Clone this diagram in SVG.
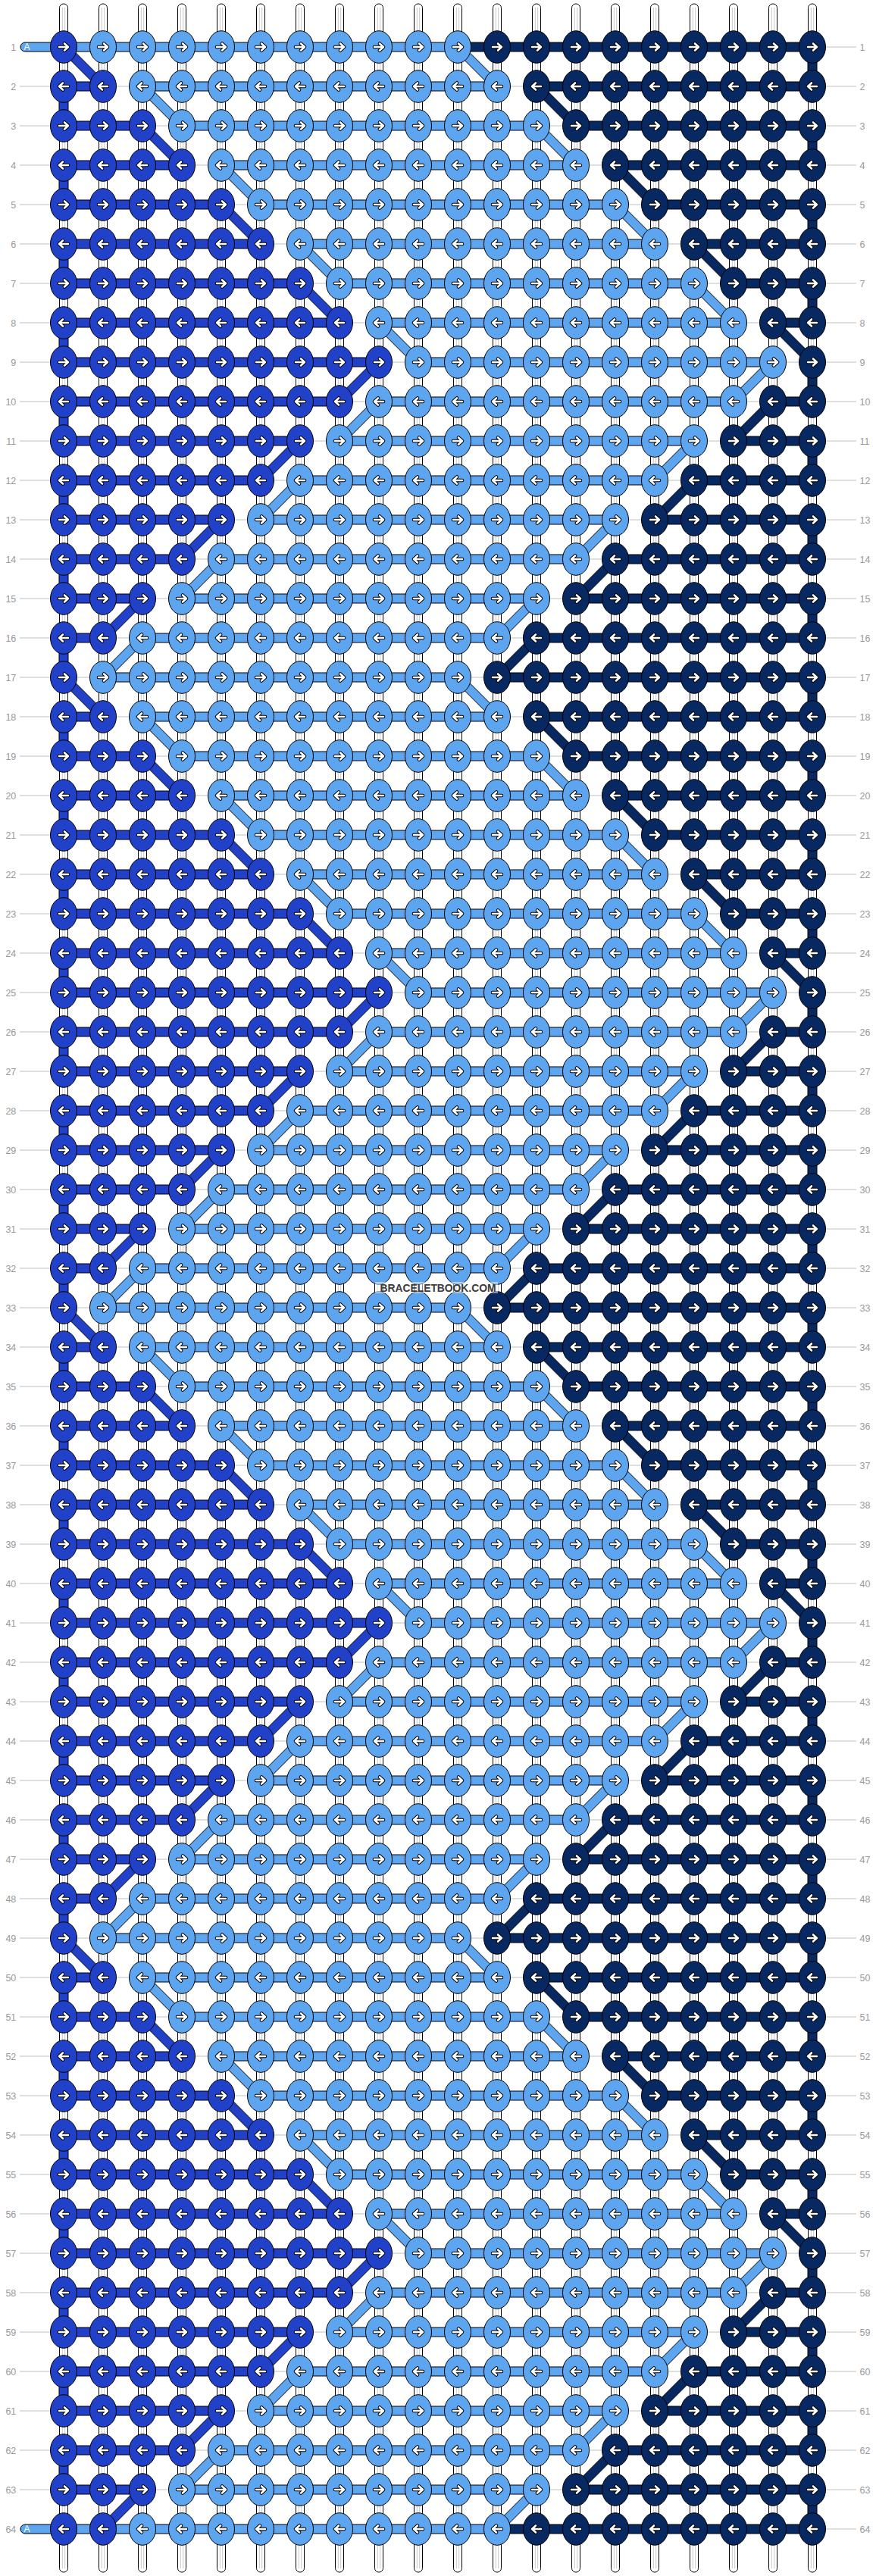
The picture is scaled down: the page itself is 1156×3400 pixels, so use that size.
<svg xmlns="http://www.w3.org/2000/svg" width="1156" height="3400" viewBox="0 0 1156 3400">
<style>
.num{font-family:"Liberation Sans",Arial,sans-serif;font-size:12.5px;fill:#999}
.lab{font-family:"Liberation Sans",Arial,sans-serif;font-size:12px;fill:#fff}
.wm{font-family:"Liberation Sans",Arial,sans-serif;font-size:15px;font-weight:bold;fill:#3c3c3c}
</style>
<defs>
<g id="a1"><path d="M-6,0H5.5M1,-4.5L6,0L1,4.5" fill="none" stroke="#000" stroke-width="4.6" stroke-linecap="round" stroke-linejoin="round"/><path d="M-6,0H5.5M1,-4.5L6,0L1,4.5" fill="none" stroke="#fff" stroke-width="2.6" stroke-linecap="round" stroke-linejoin="round"/></g>
<g id="a2"><use href="#a1" transform="scale(-1,1)"/></g>
<g id="R1"><ellipse rx="17.5" ry="21.3" fill="#2241c9" stroke="#000"/><use href="#a1"/></g>
<g id="R2"><ellipse rx="17.5" ry="21.3" fill="#2241c9" stroke="#000"/><use href="#a2"/></g>
<g id="L1"><ellipse rx="17.5" ry="21.3" fill="#5ea5ef" stroke="#000"/><use href="#a1"/></g>
<g id="L2"><ellipse rx="17.5" ry="21.3" fill="#5ea5ef" stroke="#000"/><use href="#a2"/></g>
<g id="N1"><ellipse rx="17.5" ry="21.3" fill="#072861" stroke="#000"/><use href="#a1"/></g>
<g id="N2"><ellipse rx="17.5" ry="21.3" fill="#072861" stroke="#000"/><use href="#a2"/></g>
<g id="s"><rect x="-5.5" y="5" width="11" height="3390" rx="5.5" fill="#fff" stroke="#000"/><path d="M-1.7,10V3390M1.7,10V3390" stroke="#c8c8c8" fill="none"/></g>
<rect id="hL" y="-6" width="468" height="12" fill="#5ea5ef"/>
<rect id="hR2" x="84" y="-6" width="52" height="12" fill="#2241c9"/>
<rect id="hR3" x="84" y="-6" width="104" height="12" fill="#2241c9"/>
<rect id="hR4" x="84" y="-6" width="156" height="12" fill="#2241c9"/>
<rect id="hR5" x="84" y="-6" width="208" height="12" fill="#2241c9"/>
<rect id="hR6" x="84" y="-6" width="260" height="12" fill="#2241c9"/>
<rect id="hR7" x="84" y="-6" width="312" height="12" fill="#2241c9"/>
<rect id="hR8" x="84" y="-6" width="364" height="12" fill="#2241c9"/>
<rect id="hR9" x="84" y="-6" width="416" height="12" fill="#2241c9"/>
<rect id="hN1" x="656" y="-6" width="416" height="12" fill="#072861"/>
<rect id="hN2" x="708" y="-6" width="364" height="12" fill="#072861"/>
<rect id="hN3" x="760" y="-6" width="312" height="12" fill="#072861"/>
<rect id="hN4" x="812" y="-6" width="260" height="12" fill="#072861"/>
<rect id="hN5" x="864" y="-6" width="208" height="12" fill="#072861"/>
<rect id="hN6" x="916" y="-6" width="156" height="12" fill="#072861"/>
<rect id="hN7" x="968" y="-6" width="104" height="12" fill="#072861"/>
<rect id="hN8" x="1020" y="-6" width="52" height="12" fill="#072861"/>
<rect id="vR" x="78" width="12" height="52" fill="#2241c9"/>
<rect id="vN" x="1066" width="12" height="52" fill="#072861"/>
<polygon id="drR" points="4.2,-4.2 56.2,47.8 47.8,56.2 -4.2,4.2" fill="#2241c9"/>
<polygon id="drL" points="4.2,-4.2 56.2,47.8 47.8,56.2 -4.2,4.2" fill="#5ea5ef"/>
<polygon id="drN" points="4.2,-4.2 56.2,47.8 47.8,56.2 -4.2,4.2" fill="#072861"/>
<polygon id="dlR" points="-4.2,-4.2 -56.2,47.8 -47.8,56.2 4.2,4.2" fill="#2241c9"/>
<polygon id="dlL" points="-4.2,-4.2 -56.2,47.8 -47.8,56.2 4.2,4.2" fill="#5ea5ef"/>
<polygon id="dlN" points="-4.2,-4.2 -56.2,47.8 -47.8,56.2 4.2,4.2" fill="#072861"/>
</defs>
<rect width="1156" height="3400" fill="#fff"/>
<path id="guides" fill="none" stroke="#c0c0c0" stroke-width="1" d="M26,62H1130M26,114H1130M26,166H1130M26,218H1130M26,270H1130M26,322H1130M26,374H1130M26,426H1130M26,478H1130M26,530H1130M26,582H1130M26,634H1130M26,686H1130M26,738H1130M26,790H1130M26,842H1130M26,894H1130M26,946H1130M26,998H1130M26,1050H1130M26,1102H1130M26,1154H1130M26,1206H1130M26,1258H1130M26,1310H1130M26,1362H1130M26,1414H1130M26,1466H1130M26,1518H1130M26,1570H1130M26,1622H1130M26,1674H1130M26,1726H1130M26,1778H1130M26,1830H1130M26,1882H1130M26,1934H1130M26,1986H1130M26,2038H1130M26,2090H1130M26,2142H1130M26,2194H1130M26,2246H1130M26,2298H1130M26,2350H1130M26,2402H1130M26,2454H1130M26,2506H1130M26,2558H1130M26,2610H1130M26,2662H1130M26,2714H1130M26,2766H1130M26,2818H1130M26,2870H1130M26,2922H1130M26,2974H1130M26,3026H1130M26,3078H1130M26,3130H1130M26,3182H1130M26,3234H1130M26,3286H1130M26,3338H1130"/>
<g id="strings"><use href="#s" x="84"/><use href="#s" x="136"/><use href="#s" x="188"/><use href="#s" x="240"/><use href="#s" x="292"/><use href="#s" x="344"/><use href="#s" x="396"/><use href="#s" x="448"/><use href="#s" x="500"/><use href="#s" x="552"/><use href="#s" x="604"/><use href="#s" x="656"/><use href="#s" x="708"/><use href="#s" x="760"/><use href="#s" x="812"/><use href="#s" x="864"/><use href="#s" x="916"/><use href="#s" x="968"/><use href="#s" x="1020"/><use href="#s" x="1072"/></g>
<g id="connectors" stroke="#000" stroke-width="1">
<rect x="27" y="56" width="577" height="12" rx="6" fill="#5ea5ef"/><rect x="604" y="56" width="468" height="12" fill="#072861"/><use href="#vN" y="62"/><use href="#drR" x="84" y="62"/><use href="#drL" x="604" y="62"/>
<use href="#hR2" y="114"/><use href="#hL" x="188" y="114"/><use href="#hN2" y="114"/><use href="#vR" y="114"/><use href="#drL" x="188" y="114"/><use href="#drN" x="708" y="114"/>
<use href="#hR3" y="166"/><use href="#hL" x="240" y="166"/><use href="#hN3" y="166"/><use href="#vN" y="166"/><use href="#drR" x="188" y="166"/><use href="#drL" x="708" y="166"/>
<use href="#hR4" y="218"/><use href="#hL" x="292" y="218"/><use href="#hN4" y="218"/><use href="#vR" y="218"/><use href="#drL" x="292" y="218"/><use href="#drN" x="812" y="218"/>
<use href="#hR5" y="270"/><use href="#hL" x="344" y="270"/><use href="#hN5" y="270"/><use href="#vN" y="270"/><use href="#drR" x="292" y="270"/><use href="#drL" x="812" y="270"/>
<use href="#hR6" y="322"/><use href="#hL" x="396" y="322"/><use href="#hN6" y="322"/><use href="#vR" y="322"/><use href="#drL" x="396" y="322"/><use href="#drN" x="916" y="322"/>
<use href="#hR7" y="374"/><use href="#hL" x="448" y="374"/><use href="#hN7" y="374"/><use href="#vN" y="374"/><use href="#drR" x="396" y="374"/><use href="#drL" x="916" y="374"/>
<use href="#hR8" y="426"/><use href="#hL" x="500" y="426"/><use href="#hN8" y="426"/><use href="#vR" y="426"/><use href="#drL" x="500" y="426"/><use href="#drN" x="1020" y="426"/>
<use href="#hR9" y="478"/><use href="#hL" x="552" y="478"/><use href="#vN" y="478"/><use href="#dlR" x="500" y="478"/><use href="#dlL" x="1020" y="478"/>
<use href="#hR8" y="530"/><use href="#hL" x="500" y="530"/><use href="#hN8" y="530"/><use href="#vR" y="530"/><use href="#dlL" x="500" y="530"/><use href="#dlN" x="1020" y="530"/>
<use href="#hR7" y="582"/><use href="#hL" x="448" y="582"/><use href="#hN7" y="582"/><use href="#vN" y="582"/><use href="#dlR" x="396" y="582"/><use href="#dlL" x="916" y="582"/>
<use href="#hR6" y="634"/><use href="#hL" x="396" y="634"/><use href="#hN6" y="634"/><use href="#vR" y="634"/><use href="#dlL" x="396" y="634"/><use href="#dlN" x="916" y="634"/>
<use href="#hR5" y="686"/><use href="#hL" x="344" y="686"/><use href="#hN5" y="686"/><use href="#vN" y="686"/><use href="#dlR" x="292" y="686"/><use href="#dlL" x="812" y="686"/>
<use href="#hR4" y="738"/><use href="#hL" x="292" y="738"/><use href="#hN4" y="738"/><use href="#vR" y="738"/><use href="#dlL" x="292" y="738"/><use href="#dlN" x="812" y="738"/>
<use href="#hR3" y="790"/><use href="#hL" x="240" y="790"/><use href="#hN3" y="790"/><use href="#vN" y="790"/><use href="#dlR" x="188" y="790"/><use href="#dlL" x="708" y="790"/>
<use href="#hR2" y="842"/><use href="#hL" x="188" y="842"/><use href="#hN2" y="842"/><use href="#vR" y="842"/><use href="#dlL" x="188" y="842"/><use href="#dlN" x="708" y="842"/>
<use href="#hL" x="136" y="894"/><use href="#hN1" y="894"/><use href="#vN" y="894"/><use href="#drR" x="84" y="894"/><use href="#drL" x="604" y="894"/>
<use href="#hR2" y="946"/><use href="#hL" x="188" y="946"/><use href="#hN2" y="946"/><use href="#vR" y="946"/><use href="#drL" x="188" y="946"/><use href="#drN" x="708" y="946"/>
<use href="#hR3" y="998"/><use href="#hL" x="240" y="998"/><use href="#hN3" y="998"/><use href="#vN" y="998"/><use href="#drR" x="188" y="998"/><use href="#drL" x="708" y="998"/>
<use href="#hR4" y="1050"/><use href="#hL" x="292" y="1050"/><use href="#hN4" y="1050"/><use href="#vR" y="1050"/><use href="#drL" x="292" y="1050"/><use href="#drN" x="812" y="1050"/>
<use href="#hR5" y="1102"/><use href="#hL" x="344" y="1102"/><use href="#hN5" y="1102"/><use href="#vN" y="1102"/><use href="#drR" x="292" y="1102"/><use href="#drL" x="812" y="1102"/>
<use href="#hR6" y="1154"/><use href="#hL" x="396" y="1154"/><use href="#hN6" y="1154"/><use href="#vR" y="1154"/><use href="#drL" x="396" y="1154"/><use href="#drN" x="916" y="1154"/>
<use href="#hR7" y="1206"/><use href="#hL" x="448" y="1206"/><use href="#hN7" y="1206"/><use href="#vN" y="1206"/><use href="#drR" x="396" y="1206"/><use href="#drL" x="916" y="1206"/>
<use href="#hR8" y="1258"/><use href="#hL" x="500" y="1258"/><use href="#hN8" y="1258"/><use href="#vR" y="1258"/><use href="#drL" x="500" y="1258"/><use href="#drN" x="1020" y="1258"/>
<use href="#hR9" y="1310"/><use href="#hL" x="552" y="1310"/><use href="#vN" y="1310"/><use href="#dlR" x="500" y="1310"/><use href="#dlL" x="1020" y="1310"/>
<use href="#hR8" y="1362"/><use href="#hL" x="500" y="1362"/><use href="#hN8" y="1362"/><use href="#vR" y="1362"/><use href="#dlL" x="500" y="1362"/><use href="#dlN" x="1020" y="1362"/>
<use href="#hR7" y="1414"/><use href="#hL" x="448" y="1414"/><use href="#hN7" y="1414"/><use href="#vN" y="1414"/><use href="#dlR" x="396" y="1414"/><use href="#dlL" x="916" y="1414"/>
<use href="#hR6" y="1466"/><use href="#hL" x="396" y="1466"/><use href="#hN6" y="1466"/><use href="#vR" y="1466"/><use href="#dlL" x="396" y="1466"/><use href="#dlN" x="916" y="1466"/>
<use href="#hR5" y="1518"/><use href="#hL" x="344" y="1518"/><use href="#hN5" y="1518"/><use href="#vN" y="1518"/><use href="#dlR" x="292" y="1518"/><use href="#dlL" x="812" y="1518"/>
<use href="#hR4" y="1570"/><use href="#hL" x="292" y="1570"/><use href="#hN4" y="1570"/><use href="#vR" y="1570"/><use href="#dlL" x="292" y="1570"/><use href="#dlN" x="812" y="1570"/>
<use href="#hR3" y="1622"/><use href="#hL" x="240" y="1622"/><use href="#hN3" y="1622"/><use href="#vN" y="1622"/><use href="#dlR" x="188" y="1622"/><use href="#dlL" x="708" y="1622"/>
<use href="#hR2" y="1674"/><use href="#hL" x="188" y="1674"/><use href="#hN2" y="1674"/><use href="#vR" y="1674"/><use href="#dlL" x="188" y="1674"/><use href="#dlN" x="708" y="1674"/>
<use href="#hL" x="136" y="1726"/><use href="#hN1" y="1726"/><use href="#vN" y="1726"/><use href="#drR" x="84" y="1726"/><use href="#drL" x="604" y="1726"/>
<use href="#hR2" y="1778"/><use href="#hL" x="188" y="1778"/><use href="#hN2" y="1778"/><use href="#vR" y="1778"/><use href="#drL" x="188" y="1778"/><use href="#drN" x="708" y="1778"/>
<use href="#hR3" y="1830"/><use href="#hL" x="240" y="1830"/><use href="#hN3" y="1830"/><use href="#vN" y="1830"/><use href="#drR" x="188" y="1830"/><use href="#drL" x="708" y="1830"/>
<use href="#hR4" y="1882"/><use href="#hL" x="292" y="1882"/><use href="#hN4" y="1882"/><use href="#vR" y="1882"/><use href="#drL" x="292" y="1882"/><use href="#drN" x="812" y="1882"/>
<use href="#hR5" y="1934"/><use href="#hL" x="344" y="1934"/><use href="#hN5" y="1934"/><use href="#vN" y="1934"/><use href="#drR" x="292" y="1934"/><use href="#drL" x="812" y="1934"/>
<use href="#hR6" y="1986"/><use href="#hL" x="396" y="1986"/><use href="#hN6" y="1986"/><use href="#vR" y="1986"/><use href="#drL" x="396" y="1986"/><use href="#drN" x="916" y="1986"/>
<use href="#hR7" y="2038"/><use href="#hL" x="448" y="2038"/><use href="#hN7" y="2038"/><use href="#vN" y="2038"/><use href="#drR" x="396" y="2038"/><use href="#drL" x="916" y="2038"/>
<use href="#hR8" y="2090"/><use href="#hL" x="500" y="2090"/><use href="#hN8" y="2090"/><use href="#vR" y="2090"/><use href="#drL" x="500" y="2090"/><use href="#drN" x="1020" y="2090"/>
<use href="#hR9" y="2142"/><use href="#hL" x="552" y="2142"/><use href="#vN" y="2142"/><use href="#dlR" x="500" y="2142"/><use href="#dlL" x="1020" y="2142"/>
<use href="#hR8" y="2194"/><use href="#hL" x="500" y="2194"/><use href="#hN8" y="2194"/><use href="#vR" y="2194"/><use href="#dlL" x="500" y="2194"/><use href="#dlN" x="1020" y="2194"/>
<use href="#hR7" y="2246"/><use href="#hL" x="448" y="2246"/><use href="#hN7" y="2246"/><use href="#vN" y="2246"/><use href="#dlR" x="396" y="2246"/><use href="#dlL" x="916" y="2246"/>
<use href="#hR6" y="2298"/><use href="#hL" x="396" y="2298"/><use href="#hN6" y="2298"/><use href="#vR" y="2298"/><use href="#dlL" x="396" y="2298"/><use href="#dlN" x="916" y="2298"/>
<use href="#hR5" y="2350"/><use href="#hL" x="344" y="2350"/><use href="#hN5" y="2350"/><use href="#vN" y="2350"/><use href="#dlR" x="292" y="2350"/><use href="#dlL" x="812" y="2350"/>
<use href="#hR4" y="2402"/><use href="#hL" x="292" y="2402"/><use href="#hN4" y="2402"/><use href="#vR" y="2402"/><use href="#dlL" x="292" y="2402"/><use href="#dlN" x="812" y="2402"/>
<use href="#hR3" y="2454"/><use href="#hL" x="240" y="2454"/><use href="#hN3" y="2454"/><use href="#vN" y="2454"/><use href="#dlR" x="188" y="2454"/><use href="#dlL" x="708" y="2454"/>
<use href="#hR2" y="2506"/><use href="#hL" x="188" y="2506"/><use href="#hN2" y="2506"/><use href="#vR" y="2506"/><use href="#dlL" x="188" y="2506"/><use href="#dlN" x="708" y="2506"/>
<use href="#hL" x="136" y="2558"/><use href="#hN1" y="2558"/><use href="#vN" y="2558"/><use href="#drR" x="84" y="2558"/><use href="#drL" x="604" y="2558"/>
<use href="#hR2" y="2610"/><use href="#hL" x="188" y="2610"/><use href="#hN2" y="2610"/><use href="#vR" y="2610"/><use href="#drL" x="188" y="2610"/><use href="#drN" x="708" y="2610"/>
<use href="#hR3" y="2662"/><use href="#hL" x="240" y="2662"/><use href="#hN3" y="2662"/><use href="#vN" y="2662"/><use href="#drR" x="188" y="2662"/><use href="#drL" x="708" y="2662"/>
<use href="#hR4" y="2714"/><use href="#hL" x="292" y="2714"/><use href="#hN4" y="2714"/><use href="#vR" y="2714"/><use href="#drL" x="292" y="2714"/><use href="#drN" x="812" y="2714"/>
<use href="#hR5" y="2766"/><use href="#hL" x="344" y="2766"/><use href="#hN5" y="2766"/><use href="#vN" y="2766"/><use href="#drR" x="292" y="2766"/><use href="#drL" x="812" y="2766"/>
<use href="#hR6" y="2818"/><use href="#hL" x="396" y="2818"/><use href="#hN6" y="2818"/><use href="#vR" y="2818"/><use href="#drL" x="396" y="2818"/><use href="#drN" x="916" y="2818"/>
<use href="#hR7" y="2870"/><use href="#hL" x="448" y="2870"/><use href="#hN7" y="2870"/><use href="#vN" y="2870"/><use href="#drR" x="396" y="2870"/><use href="#drL" x="916" y="2870"/>
<use href="#hR8" y="2922"/><use href="#hL" x="500" y="2922"/><use href="#hN8" y="2922"/><use href="#vR" y="2922"/><use href="#drL" x="500" y="2922"/><use href="#drN" x="1020" y="2922"/>
<use href="#hR9" y="2974"/><use href="#hL" x="552" y="2974"/><use href="#vN" y="2974"/><use href="#dlR" x="500" y="2974"/><use href="#dlL" x="1020" y="2974"/>
<use href="#hR8" y="3026"/><use href="#hL" x="500" y="3026"/><use href="#hN8" y="3026"/><use href="#vR" y="3026"/><use href="#dlL" x="500" y="3026"/><use href="#dlN" x="1020" y="3026"/>
<use href="#hR7" y="3078"/><use href="#hL" x="448" y="3078"/><use href="#hN7" y="3078"/><use href="#vN" y="3078"/><use href="#dlR" x="396" y="3078"/><use href="#dlL" x="916" y="3078"/>
<use href="#hR6" y="3130"/><use href="#hL" x="396" y="3130"/><use href="#hN6" y="3130"/><use href="#vR" y="3130"/><use href="#dlL" x="396" y="3130"/><use href="#dlN" x="916" y="3130"/>
<use href="#hR5" y="3182"/><use href="#hL" x="344" y="3182"/><use href="#hN5" y="3182"/><use href="#vN" y="3182"/><use href="#dlR" x="292" y="3182"/><use href="#dlL" x="812" y="3182"/>
<use href="#hR4" y="3234"/><use href="#hL" x="292" y="3234"/><use href="#hN4" y="3234"/><use href="#vR" y="3234"/><use href="#dlL" x="292" y="3234"/><use href="#dlN" x="812" y="3234"/>
<use href="#hR3" y="3286"/><use href="#hL" x="240" y="3286"/><use href="#hN3" y="3286"/><use href="#vN" y="3286"/><use href="#dlR" x="188" y="3286"/><use href="#dlL" x="708" y="3286"/>
<rect x="27" y="3332" width="629" height="12" rx="6" fill="#5ea5ef"/><rect x="656" y="3332" width="416" height="12" fill="#072861"/>
</g>
<g id="knots">
<g id="row1" transform="translate(0,62)"><use href="#R1" x="84"/><use href="#L1" x="136"/><use href="#L1" x="188"/><use href="#L1" x="240"/><use href="#L1" x="292"/><use href="#L1" x="344"/><use href="#L1" x="396"/><use href="#L1" x="448"/><use href="#L1" x="500"/><use href="#L1" x="552"/><use href="#L1" x="604"/><use href="#N1" x="656"/><use href="#N1" x="708"/><use href="#N1" x="760"/><use href="#N1" x="812"/><use href="#N1" x="864"/><use href="#N1" x="916"/><use href="#N1" x="968"/><use href="#N1" x="1020"/><use href="#N1" x="1072"/></g>
<g id="row2" transform="translate(0,114)"><use href="#R2" x="84"/><use href="#R2" x="136"/><use href="#L2" x="188"/><use href="#L2" x="240"/><use href="#L2" x="292"/><use href="#L2" x="344"/><use href="#L2" x="396"/><use href="#L2" x="448"/><use href="#L2" x="500"/><use href="#L2" x="552"/><use href="#L2" x="604"/><use href="#L2" x="656"/><use href="#N2" x="708"/><use href="#N2" x="760"/><use href="#N2" x="812"/><use href="#N2" x="864"/><use href="#N2" x="916"/><use href="#N2" x="968"/><use href="#N2" x="1020"/><use href="#N2" x="1072"/></g>
<g id="row3" transform="translate(0,166)"><use href="#R1" x="84"/><use href="#R1" x="136"/><use href="#R1" x="188"/><use href="#L1" x="240"/><use href="#L1" x="292"/><use href="#L1" x="344"/><use href="#L1" x="396"/><use href="#L1" x="448"/><use href="#L1" x="500"/><use href="#L1" x="552"/><use href="#L1" x="604"/><use href="#L1" x="656"/><use href="#L1" x="708"/><use href="#N1" x="760"/><use href="#N1" x="812"/><use href="#N1" x="864"/><use href="#N1" x="916"/><use href="#N1" x="968"/><use href="#N1" x="1020"/><use href="#N1" x="1072"/></g>
<g id="row4" transform="translate(0,218)"><use href="#R2" x="84"/><use href="#R2" x="136"/><use href="#R2" x="188"/><use href="#R2" x="240"/><use href="#L2" x="292"/><use href="#L2" x="344"/><use href="#L2" x="396"/><use href="#L2" x="448"/><use href="#L2" x="500"/><use href="#L2" x="552"/><use href="#L2" x="604"/><use href="#L2" x="656"/><use href="#L2" x="708"/><use href="#L2" x="760"/><use href="#N2" x="812"/><use href="#N2" x="864"/><use href="#N2" x="916"/><use href="#N2" x="968"/><use href="#N2" x="1020"/><use href="#N2" x="1072"/></g>
<g id="row5" transform="translate(0,270)"><use href="#R1" x="84"/><use href="#R1" x="136"/><use href="#R1" x="188"/><use href="#R1" x="240"/><use href="#R1" x="292"/><use href="#L1" x="344"/><use href="#L1" x="396"/><use href="#L1" x="448"/><use href="#L1" x="500"/><use href="#L1" x="552"/><use href="#L1" x="604"/><use href="#L1" x="656"/><use href="#L1" x="708"/><use href="#L1" x="760"/><use href="#L1" x="812"/><use href="#N1" x="864"/><use href="#N1" x="916"/><use href="#N1" x="968"/><use href="#N1" x="1020"/><use href="#N1" x="1072"/></g>
<g id="row6" transform="translate(0,322)"><use href="#R2" x="84"/><use href="#R2" x="136"/><use href="#R2" x="188"/><use href="#R2" x="240"/><use href="#R2" x="292"/><use href="#R2" x="344"/><use href="#L2" x="396"/><use href="#L2" x="448"/><use href="#L2" x="500"/><use href="#L2" x="552"/><use href="#L2" x="604"/><use href="#L2" x="656"/><use href="#L2" x="708"/><use href="#L2" x="760"/><use href="#L2" x="812"/><use href="#L2" x="864"/><use href="#N2" x="916"/><use href="#N2" x="968"/><use href="#N2" x="1020"/><use href="#N2" x="1072"/></g>
<g id="row7" transform="translate(0,374)"><use href="#R1" x="84"/><use href="#R1" x="136"/><use href="#R1" x="188"/><use href="#R1" x="240"/><use href="#R1" x="292"/><use href="#R1" x="344"/><use href="#R1" x="396"/><use href="#L1" x="448"/><use href="#L1" x="500"/><use href="#L1" x="552"/><use href="#L1" x="604"/><use href="#L1" x="656"/><use href="#L1" x="708"/><use href="#L1" x="760"/><use href="#L1" x="812"/><use href="#L1" x="864"/><use href="#L1" x="916"/><use href="#N1" x="968"/><use href="#N1" x="1020"/><use href="#N1" x="1072"/></g>
<g id="row8" transform="translate(0,426)"><use href="#R2" x="84"/><use href="#R2" x="136"/><use href="#R2" x="188"/><use href="#R2" x="240"/><use href="#R2" x="292"/><use href="#R2" x="344"/><use href="#R2" x="396"/><use href="#R2" x="448"/><use href="#L2" x="500"/><use href="#L2" x="552"/><use href="#L2" x="604"/><use href="#L2" x="656"/><use href="#L2" x="708"/><use href="#L2" x="760"/><use href="#L2" x="812"/><use href="#L2" x="864"/><use href="#L2" x="916"/><use href="#L2" x="968"/><use href="#N2" x="1020"/><use href="#N2" x="1072"/></g>
<g id="row9" transform="translate(0,478)"><use href="#R1" x="84"/><use href="#R1" x="136"/><use href="#R1" x="188"/><use href="#R1" x="240"/><use href="#R1" x="292"/><use href="#R1" x="344"/><use href="#R1" x="396"/><use href="#R1" x="448"/><use href="#R1" x="500"/><use href="#L1" x="552"/><use href="#L1" x="604"/><use href="#L1" x="656"/><use href="#L1" x="708"/><use href="#L1" x="760"/><use href="#L1" x="812"/><use href="#L1" x="864"/><use href="#L1" x="916"/><use href="#L1" x="968"/><use href="#L1" x="1020"/><use href="#N1" x="1072"/></g>
<g id="row10" transform="translate(0,530)"><use href="#R2" x="84"/><use href="#R2" x="136"/><use href="#R2" x="188"/><use href="#R2" x="240"/><use href="#R2" x="292"/><use href="#R2" x="344"/><use href="#R2" x="396"/><use href="#R2" x="448"/><use href="#L2" x="500"/><use href="#L2" x="552"/><use href="#L2" x="604"/><use href="#L2" x="656"/><use href="#L2" x="708"/><use href="#L2" x="760"/><use href="#L2" x="812"/><use href="#L2" x="864"/><use href="#L2" x="916"/><use href="#L2" x="968"/><use href="#N2" x="1020"/><use href="#N2" x="1072"/></g>
<g id="row11" transform="translate(0,582)"><use href="#R1" x="84"/><use href="#R1" x="136"/><use href="#R1" x="188"/><use href="#R1" x="240"/><use href="#R1" x="292"/><use href="#R1" x="344"/><use href="#R1" x="396"/><use href="#L1" x="448"/><use href="#L1" x="500"/><use href="#L1" x="552"/><use href="#L1" x="604"/><use href="#L1" x="656"/><use href="#L1" x="708"/><use href="#L1" x="760"/><use href="#L1" x="812"/><use href="#L1" x="864"/><use href="#L1" x="916"/><use href="#N1" x="968"/><use href="#N1" x="1020"/><use href="#N1" x="1072"/></g>
<g id="row12" transform="translate(0,634)"><use href="#R2" x="84"/><use href="#R2" x="136"/><use href="#R2" x="188"/><use href="#R2" x="240"/><use href="#R2" x="292"/><use href="#R2" x="344"/><use href="#L2" x="396"/><use href="#L2" x="448"/><use href="#L2" x="500"/><use href="#L2" x="552"/><use href="#L2" x="604"/><use href="#L2" x="656"/><use href="#L2" x="708"/><use href="#L2" x="760"/><use href="#L2" x="812"/><use href="#L2" x="864"/><use href="#N2" x="916"/><use href="#N2" x="968"/><use href="#N2" x="1020"/><use href="#N2" x="1072"/></g>
<g id="row13" transform="translate(0,686)"><use href="#R1" x="84"/><use href="#R1" x="136"/><use href="#R1" x="188"/><use href="#R1" x="240"/><use href="#R1" x="292"/><use href="#L1" x="344"/><use href="#L1" x="396"/><use href="#L1" x="448"/><use href="#L1" x="500"/><use href="#L1" x="552"/><use href="#L1" x="604"/><use href="#L1" x="656"/><use href="#L1" x="708"/><use href="#L1" x="760"/><use href="#L1" x="812"/><use href="#N1" x="864"/><use href="#N1" x="916"/><use href="#N1" x="968"/><use href="#N1" x="1020"/><use href="#N1" x="1072"/></g>
<g id="row14" transform="translate(0,738)"><use href="#R2" x="84"/><use href="#R2" x="136"/><use href="#R2" x="188"/><use href="#R2" x="240"/><use href="#L2" x="292"/><use href="#L2" x="344"/><use href="#L2" x="396"/><use href="#L2" x="448"/><use href="#L2" x="500"/><use href="#L2" x="552"/><use href="#L2" x="604"/><use href="#L2" x="656"/><use href="#L2" x="708"/><use href="#L2" x="760"/><use href="#N2" x="812"/><use href="#N2" x="864"/><use href="#N2" x="916"/><use href="#N2" x="968"/><use href="#N2" x="1020"/><use href="#N2" x="1072"/></g>
<g id="row15" transform="translate(0,790)"><use href="#R1" x="84"/><use href="#R1" x="136"/><use href="#R1" x="188"/><use href="#L1" x="240"/><use href="#L1" x="292"/><use href="#L1" x="344"/><use href="#L1" x="396"/><use href="#L1" x="448"/><use href="#L1" x="500"/><use href="#L1" x="552"/><use href="#L1" x="604"/><use href="#L1" x="656"/><use href="#L1" x="708"/><use href="#N1" x="760"/><use href="#N1" x="812"/><use href="#N1" x="864"/><use href="#N1" x="916"/><use href="#N1" x="968"/><use href="#N1" x="1020"/><use href="#N1" x="1072"/></g>
<g id="row16" transform="translate(0,842)"><use href="#R2" x="84"/><use href="#R2" x="136"/><use href="#L2" x="188"/><use href="#L2" x="240"/><use href="#L2" x="292"/><use href="#L2" x="344"/><use href="#L2" x="396"/><use href="#L2" x="448"/><use href="#L2" x="500"/><use href="#L2" x="552"/><use href="#L2" x="604"/><use href="#L2" x="656"/><use href="#N2" x="708"/><use href="#N2" x="760"/><use href="#N2" x="812"/><use href="#N2" x="864"/><use href="#N2" x="916"/><use href="#N2" x="968"/><use href="#N2" x="1020"/><use href="#N2" x="1072"/></g>
<g id="row17" transform="translate(0,894)"><use href="#R1" x="84"/><use href="#L1" x="136"/><use href="#L1" x="188"/><use href="#L1" x="240"/><use href="#L1" x="292"/><use href="#L1" x="344"/><use href="#L1" x="396"/><use href="#L1" x="448"/><use href="#L1" x="500"/><use href="#L1" x="552"/><use href="#L1" x="604"/><use href="#N1" x="656"/><use href="#N1" x="708"/><use href="#N1" x="760"/><use href="#N1" x="812"/><use href="#N1" x="864"/><use href="#N1" x="916"/><use href="#N1" x="968"/><use href="#N1" x="1020"/><use href="#N1" x="1072"/></g>
<g id="row18" transform="translate(0,946)"><use href="#R2" x="84"/><use href="#R2" x="136"/><use href="#L2" x="188"/><use href="#L2" x="240"/><use href="#L2" x="292"/><use href="#L2" x="344"/><use href="#L2" x="396"/><use href="#L2" x="448"/><use href="#L2" x="500"/><use href="#L2" x="552"/><use href="#L2" x="604"/><use href="#L2" x="656"/><use href="#N2" x="708"/><use href="#N2" x="760"/><use href="#N2" x="812"/><use href="#N2" x="864"/><use href="#N2" x="916"/><use href="#N2" x="968"/><use href="#N2" x="1020"/><use href="#N2" x="1072"/></g>
<g id="row19" transform="translate(0,998)"><use href="#R1" x="84"/><use href="#R1" x="136"/><use href="#R1" x="188"/><use href="#L1" x="240"/><use href="#L1" x="292"/><use href="#L1" x="344"/><use href="#L1" x="396"/><use href="#L1" x="448"/><use href="#L1" x="500"/><use href="#L1" x="552"/><use href="#L1" x="604"/><use href="#L1" x="656"/><use href="#L1" x="708"/><use href="#N1" x="760"/><use href="#N1" x="812"/><use href="#N1" x="864"/><use href="#N1" x="916"/><use href="#N1" x="968"/><use href="#N1" x="1020"/><use href="#N1" x="1072"/></g>
<g id="row20" transform="translate(0,1050)"><use href="#R2" x="84"/><use href="#R2" x="136"/><use href="#R2" x="188"/><use href="#R2" x="240"/><use href="#L2" x="292"/><use href="#L2" x="344"/><use href="#L2" x="396"/><use href="#L2" x="448"/><use href="#L2" x="500"/><use href="#L2" x="552"/><use href="#L2" x="604"/><use href="#L2" x="656"/><use href="#L2" x="708"/><use href="#L2" x="760"/><use href="#N2" x="812"/><use href="#N2" x="864"/><use href="#N2" x="916"/><use href="#N2" x="968"/><use href="#N2" x="1020"/><use href="#N2" x="1072"/></g>
<g id="row21" transform="translate(0,1102)"><use href="#R1" x="84"/><use href="#R1" x="136"/><use href="#R1" x="188"/><use href="#R1" x="240"/><use href="#R1" x="292"/><use href="#L1" x="344"/><use href="#L1" x="396"/><use href="#L1" x="448"/><use href="#L1" x="500"/><use href="#L1" x="552"/><use href="#L1" x="604"/><use href="#L1" x="656"/><use href="#L1" x="708"/><use href="#L1" x="760"/><use href="#L1" x="812"/><use href="#N1" x="864"/><use href="#N1" x="916"/><use href="#N1" x="968"/><use href="#N1" x="1020"/><use href="#N1" x="1072"/></g>
<g id="row22" transform="translate(0,1154)"><use href="#R2" x="84"/><use href="#R2" x="136"/><use href="#R2" x="188"/><use href="#R2" x="240"/><use href="#R2" x="292"/><use href="#R2" x="344"/><use href="#L2" x="396"/><use href="#L2" x="448"/><use href="#L2" x="500"/><use href="#L2" x="552"/><use href="#L2" x="604"/><use href="#L2" x="656"/><use href="#L2" x="708"/><use href="#L2" x="760"/><use href="#L2" x="812"/><use href="#L2" x="864"/><use href="#N2" x="916"/><use href="#N2" x="968"/><use href="#N2" x="1020"/><use href="#N2" x="1072"/></g>
<g id="row23" transform="translate(0,1206)"><use href="#R1" x="84"/><use href="#R1" x="136"/><use href="#R1" x="188"/><use href="#R1" x="240"/><use href="#R1" x="292"/><use href="#R1" x="344"/><use href="#R1" x="396"/><use href="#L1" x="448"/><use href="#L1" x="500"/><use href="#L1" x="552"/><use href="#L1" x="604"/><use href="#L1" x="656"/><use href="#L1" x="708"/><use href="#L1" x="760"/><use href="#L1" x="812"/><use href="#L1" x="864"/><use href="#L1" x="916"/><use href="#N1" x="968"/><use href="#N1" x="1020"/><use href="#N1" x="1072"/></g>
<g id="row24" transform="translate(0,1258)"><use href="#R2" x="84"/><use href="#R2" x="136"/><use href="#R2" x="188"/><use href="#R2" x="240"/><use href="#R2" x="292"/><use href="#R2" x="344"/><use href="#R2" x="396"/><use href="#R2" x="448"/><use href="#L2" x="500"/><use href="#L2" x="552"/><use href="#L2" x="604"/><use href="#L2" x="656"/><use href="#L2" x="708"/><use href="#L2" x="760"/><use href="#L2" x="812"/><use href="#L2" x="864"/><use href="#L2" x="916"/><use href="#L2" x="968"/><use href="#N2" x="1020"/><use href="#N2" x="1072"/></g>
<g id="row25" transform="translate(0,1310)"><use href="#R1" x="84"/><use href="#R1" x="136"/><use href="#R1" x="188"/><use href="#R1" x="240"/><use href="#R1" x="292"/><use href="#R1" x="344"/><use href="#R1" x="396"/><use href="#R1" x="448"/><use href="#R1" x="500"/><use href="#L1" x="552"/><use href="#L1" x="604"/><use href="#L1" x="656"/><use href="#L1" x="708"/><use href="#L1" x="760"/><use href="#L1" x="812"/><use href="#L1" x="864"/><use href="#L1" x="916"/><use href="#L1" x="968"/><use href="#L1" x="1020"/><use href="#N1" x="1072"/></g>
<g id="row26" transform="translate(0,1362)"><use href="#R2" x="84"/><use href="#R2" x="136"/><use href="#R2" x="188"/><use href="#R2" x="240"/><use href="#R2" x="292"/><use href="#R2" x="344"/><use href="#R2" x="396"/><use href="#R2" x="448"/><use href="#L2" x="500"/><use href="#L2" x="552"/><use href="#L2" x="604"/><use href="#L2" x="656"/><use href="#L2" x="708"/><use href="#L2" x="760"/><use href="#L2" x="812"/><use href="#L2" x="864"/><use href="#L2" x="916"/><use href="#L2" x="968"/><use href="#N2" x="1020"/><use href="#N2" x="1072"/></g>
<g id="row27" transform="translate(0,1414)"><use href="#R1" x="84"/><use href="#R1" x="136"/><use href="#R1" x="188"/><use href="#R1" x="240"/><use href="#R1" x="292"/><use href="#R1" x="344"/><use href="#R1" x="396"/><use href="#L1" x="448"/><use href="#L1" x="500"/><use href="#L1" x="552"/><use href="#L1" x="604"/><use href="#L1" x="656"/><use href="#L1" x="708"/><use href="#L1" x="760"/><use href="#L1" x="812"/><use href="#L1" x="864"/><use href="#L1" x="916"/><use href="#N1" x="968"/><use href="#N1" x="1020"/><use href="#N1" x="1072"/></g>
<g id="row28" transform="translate(0,1466)"><use href="#R2" x="84"/><use href="#R2" x="136"/><use href="#R2" x="188"/><use href="#R2" x="240"/><use href="#R2" x="292"/><use href="#R2" x="344"/><use href="#L2" x="396"/><use href="#L2" x="448"/><use href="#L2" x="500"/><use href="#L2" x="552"/><use href="#L2" x="604"/><use href="#L2" x="656"/><use href="#L2" x="708"/><use href="#L2" x="760"/><use href="#L2" x="812"/><use href="#L2" x="864"/><use href="#N2" x="916"/><use href="#N2" x="968"/><use href="#N2" x="1020"/><use href="#N2" x="1072"/></g>
<g id="row29" transform="translate(0,1518)"><use href="#R1" x="84"/><use href="#R1" x="136"/><use href="#R1" x="188"/><use href="#R1" x="240"/><use href="#R1" x="292"/><use href="#L1" x="344"/><use href="#L1" x="396"/><use href="#L1" x="448"/><use href="#L1" x="500"/><use href="#L1" x="552"/><use href="#L1" x="604"/><use href="#L1" x="656"/><use href="#L1" x="708"/><use href="#L1" x="760"/><use href="#L1" x="812"/><use href="#N1" x="864"/><use href="#N1" x="916"/><use href="#N1" x="968"/><use href="#N1" x="1020"/><use href="#N1" x="1072"/></g>
<g id="row30" transform="translate(0,1570)"><use href="#R2" x="84"/><use href="#R2" x="136"/><use href="#R2" x="188"/><use href="#R2" x="240"/><use href="#L2" x="292"/><use href="#L2" x="344"/><use href="#L2" x="396"/><use href="#L2" x="448"/><use href="#L2" x="500"/><use href="#L2" x="552"/><use href="#L2" x="604"/><use href="#L2" x="656"/><use href="#L2" x="708"/><use href="#L2" x="760"/><use href="#N2" x="812"/><use href="#N2" x="864"/><use href="#N2" x="916"/><use href="#N2" x="968"/><use href="#N2" x="1020"/><use href="#N2" x="1072"/></g>
<g id="row31" transform="translate(0,1622)"><use href="#R1" x="84"/><use href="#R1" x="136"/><use href="#R1" x="188"/><use href="#L1" x="240"/><use href="#L1" x="292"/><use href="#L1" x="344"/><use href="#L1" x="396"/><use href="#L1" x="448"/><use href="#L1" x="500"/><use href="#L1" x="552"/><use href="#L1" x="604"/><use href="#L1" x="656"/><use href="#L1" x="708"/><use href="#N1" x="760"/><use href="#N1" x="812"/><use href="#N1" x="864"/><use href="#N1" x="916"/><use href="#N1" x="968"/><use href="#N1" x="1020"/><use href="#N1" x="1072"/></g>
<g id="row32" transform="translate(0,1674)"><use href="#R2" x="84"/><use href="#R2" x="136"/><use href="#L2" x="188"/><use href="#L2" x="240"/><use href="#L2" x="292"/><use href="#L2" x="344"/><use href="#L2" x="396"/><use href="#L2" x="448"/><use href="#L2" x="500"/><use href="#L2" x="552"/><use href="#L2" x="604"/><use href="#L2" x="656"/><use href="#N2" x="708"/><use href="#N2" x="760"/><use href="#N2" x="812"/><use href="#N2" x="864"/><use href="#N2" x="916"/><use href="#N2" x="968"/><use href="#N2" x="1020"/><use href="#N2" x="1072"/></g>
<g id="row33" transform="translate(0,1726)"><use href="#R1" x="84"/><use href="#L1" x="136"/><use href="#L1" x="188"/><use href="#L1" x="240"/><use href="#L1" x="292"/><use href="#L1" x="344"/><use href="#L1" x="396"/><use href="#L1" x="448"/><use href="#L1" x="500"/><use href="#L1" x="552"/><use href="#L1" x="604"/><use href="#N1" x="656"/><use href="#N1" x="708"/><use href="#N1" x="760"/><use href="#N1" x="812"/><use href="#N1" x="864"/><use href="#N1" x="916"/><use href="#N1" x="968"/><use href="#N1" x="1020"/><use href="#N1" x="1072"/></g>
<g id="row34" transform="translate(0,1778)"><use href="#R2" x="84"/><use href="#R2" x="136"/><use href="#L2" x="188"/><use href="#L2" x="240"/><use href="#L2" x="292"/><use href="#L2" x="344"/><use href="#L2" x="396"/><use href="#L2" x="448"/><use href="#L2" x="500"/><use href="#L2" x="552"/><use href="#L2" x="604"/><use href="#L2" x="656"/><use href="#N2" x="708"/><use href="#N2" x="760"/><use href="#N2" x="812"/><use href="#N2" x="864"/><use href="#N2" x="916"/><use href="#N2" x="968"/><use href="#N2" x="1020"/><use href="#N2" x="1072"/></g>
<g id="row35" transform="translate(0,1830)"><use href="#R1" x="84"/><use href="#R1" x="136"/><use href="#R1" x="188"/><use href="#L1" x="240"/><use href="#L1" x="292"/><use href="#L1" x="344"/><use href="#L1" x="396"/><use href="#L1" x="448"/><use href="#L1" x="500"/><use href="#L1" x="552"/><use href="#L1" x="604"/><use href="#L1" x="656"/><use href="#L1" x="708"/><use href="#N1" x="760"/><use href="#N1" x="812"/><use href="#N1" x="864"/><use href="#N1" x="916"/><use href="#N1" x="968"/><use href="#N1" x="1020"/><use href="#N1" x="1072"/></g>
<g id="row36" transform="translate(0,1882)"><use href="#R2" x="84"/><use href="#R2" x="136"/><use href="#R2" x="188"/><use href="#R2" x="240"/><use href="#L2" x="292"/><use href="#L2" x="344"/><use href="#L2" x="396"/><use href="#L2" x="448"/><use href="#L2" x="500"/><use href="#L2" x="552"/><use href="#L2" x="604"/><use href="#L2" x="656"/><use href="#L2" x="708"/><use href="#L2" x="760"/><use href="#N2" x="812"/><use href="#N2" x="864"/><use href="#N2" x="916"/><use href="#N2" x="968"/><use href="#N2" x="1020"/><use href="#N2" x="1072"/></g>
<g id="row37" transform="translate(0,1934)"><use href="#R1" x="84"/><use href="#R1" x="136"/><use href="#R1" x="188"/><use href="#R1" x="240"/><use href="#R1" x="292"/><use href="#L1" x="344"/><use href="#L1" x="396"/><use href="#L1" x="448"/><use href="#L1" x="500"/><use href="#L1" x="552"/><use href="#L1" x="604"/><use href="#L1" x="656"/><use href="#L1" x="708"/><use href="#L1" x="760"/><use href="#L1" x="812"/><use href="#N1" x="864"/><use href="#N1" x="916"/><use href="#N1" x="968"/><use href="#N1" x="1020"/><use href="#N1" x="1072"/></g>
<g id="row38" transform="translate(0,1986)"><use href="#R2" x="84"/><use href="#R2" x="136"/><use href="#R2" x="188"/><use href="#R2" x="240"/><use href="#R2" x="292"/><use href="#R2" x="344"/><use href="#L2" x="396"/><use href="#L2" x="448"/><use href="#L2" x="500"/><use href="#L2" x="552"/><use href="#L2" x="604"/><use href="#L2" x="656"/><use href="#L2" x="708"/><use href="#L2" x="760"/><use href="#L2" x="812"/><use href="#L2" x="864"/><use href="#N2" x="916"/><use href="#N2" x="968"/><use href="#N2" x="1020"/><use href="#N2" x="1072"/></g>
<g id="row39" transform="translate(0,2038)"><use href="#R1" x="84"/><use href="#R1" x="136"/><use href="#R1" x="188"/><use href="#R1" x="240"/><use href="#R1" x="292"/><use href="#R1" x="344"/><use href="#R1" x="396"/><use href="#L1" x="448"/><use href="#L1" x="500"/><use href="#L1" x="552"/><use href="#L1" x="604"/><use href="#L1" x="656"/><use href="#L1" x="708"/><use href="#L1" x="760"/><use href="#L1" x="812"/><use href="#L1" x="864"/><use href="#L1" x="916"/><use href="#N1" x="968"/><use href="#N1" x="1020"/><use href="#N1" x="1072"/></g>
<g id="row40" transform="translate(0,2090)"><use href="#R2" x="84"/><use href="#R2" x="136"/><use href="#R2" x="188"/><use href="#R2" x="240"/><use href="#R2" x="292"/><use href="#R2" x="344"/><use href="#R2" x="396"/><use href="#R2" x="448"/><use href="#L2" x="500"/><use href="#L2" x="552"/><use href="#L2" x="604"/><use href="#L2" x="656"/><use href="#L2" x="708"/><use href="#L2" x="760"/><use href="#L2" x="812"/><use href="#L2" x="864"/><use href="#L2" x="916"/><use href="#L2" x="968"/><use href="#N2" x="1020"/><use href="#N2" x="1072"/></g>
<g id="row41" transform="translate(0,2142)"><use href="#R1" x="84"/><use href="#R1" x="136"/><use href="#R1" x="188"/><use href="#R1" x="240"/><use href="#R1" x="292"/><use href="#R1" x="344"/><use href="#R1" x="396"/><use href="#R1" x="448"/><use href="#R1" x="500"/><use href="#L1" x="552"/><use href="#L1" x="604"/><use href="#L1" x="656"/><use href="#L1" x="708"/><use href="#L1" x="760"/><use href="#L1" x="812"/><use href="#L1" x="864"/><use href="#L1" x="916"/><use href="#L1" x="968"/><use href="#L1" x="1020"/><use href="#N1" x="1072"/></g>
<g id="row42" transform="translate(0,2194)"><use href="#R2" x="84"/><use href="#R2" x="136"/><use href="#R2" x="188"/><use href="#R2" x="240"/><use href="#R2" x="292"/><use href="#R2" x="344"/><use href="#R2" x="396"/><use href="#R2" x="448"/><use href="#L2" x="500"/><use href="#L2" x="552"/><use href="#L2" x="604"/><use href="#L2" x="656"/><use href="#L2" x="708"/><use href="#L2" x="760"/><use href="#L2" x="812"/><use href="#L2" x="864"/><use href="#L2" x="916"/><use href="#L2" x="968"/><use href="#N2" x="1020"/><use href="#N2" x="1072"/></g>
<g id="row43" transform="translate(0,2246)"><use href="#R1" x="84"/><use href="#R1" x="136"/><use href="#R1" x="188"/><use href="#R1" x="240"/><use href="#R1" x="292"/><use href="#R1" x="344"/><use href="#R1" x="396"/><use href="#L1" x="448"/><use href="#L1" x="500"/><use href="#L1" x="552"/><use href="#L1" x="604"/><use href="#L1" x="656"/><use href="#L1" x="708"/><use href="#L1" x="760"/><use href="#L1" x="812"/><use href="#L1" x="864"/><use href="#L1" x="916"/><use href="#N1" x="968"/><use href="#N1" x="1020"/><use href="#N1" x="1072"/></g>
<g id="row44" transform="translate(0,2298)"><use href="#R2" x="84"/><use href="#R2" x="136"/><use href="#R2" x="188"/><use href="#R2" x="240"/><use href="#R2" x="292"/><use href="#R2" x="344"/><use href="#L2" x="396"/><use href="#L2" x="448"/><use href="#L2" x="500"/><use href="#L2" x="552"/><use href="#L2" x="604"/><use href="#L2" x="656"/><use href="#L2" x="708"/><use href="#L2" x="760"/><use href="#L2" x="812"/><use href="#L2" x="864"/><use href="#N2" x="916"/><use href="#N2" x="968"/><use href="#N2" x="1020"/><use href="#N2" x="1072"/></g>
<g id="row45" transform="translate(0,2350)"><use href="#R1" x="84"/><use href="#R1" x="136"/><use href="#R1" x="188"/><use href="#R1" x="240"/><use href="#R1" x="292"/><use href="#L1" x="344"/><use href="#L1" x="396"/><use href="#L1" x="448"/><use href="#L1" x="500"/><use href="#L1" x="552"/><use href="#L1" x="604"/><use href="#L1" x="656"/><use href="#L1" x="708"/><use href="#L1" x="760"/><use href="#L1" x="812"/><use href="#N1" x="864"/><use href="#N1" x="916"/><use href="#N1" x="968"/><use href="#N1" x="1020"/><use href="#N1" x="1072"/></g>
<g id="row46" transform="translate(0,2402)"><use href="#R2" x="84"/><use href="#R2" x="136"/><use href="#R2" x="188"/><use href="#R2" x="240"/><use href="#L2" x="292"/><use href="#L2" x="344"/><use href="#L2" x="396"/><use href="#L2" x="448"/><use href="#L2" x="500"/><use href="#L2" x="552"/><use href="#L2" x="604"/><use href="#L2" x="656"/><use href="#L2" x="708"/><use href="#L2" x="760"/><use href="#N2" x="812"/><use href="#N2" x="864"/><use href="#N2" x="916"/><use href="#N2" x="968"/><use href="#N2" x="1020"/><use href="#N2" x="1072"/></g>
<g id="row47" transform="translate(0,2454)"><use href="#R1" x="84"/><use href="#R1" x="136"/><use href="#R1" x="188"/><use href="#L1" x="240"/><use href="#L1" x="292"/><use href="#L1" x="344"/><use href="#L1" x="396"/><use href="#L1" x="448"/><use href="#L1" x="500"/><use href="#L1" x="552"/><use href="#L1" x="604"/><use href="#L1" x="656"/><use href="#L1" x="708"/><use href="#N1" x="760"/><use href="#N1" x="812"/><use href="#N1" x="864"/><use href="#N1" x="916"/><use href="#N1" x="968"/><use href="#N1" x="1020"/><use href="#N1" x="1072"/></g>
<g id="row48" transform="translate(0,2506)"><use href="#R2" x="84"/><use href="#R2" x="136"/><use href="#L2" x="188"/><use href="#L2" x="240"/><use href="#L2" x="292"/><use href="#L2" x="344"/><use href="#L2" x="396"/><use href="#L2" x="448"/><use href="#L2" x="500"/><use href="#L2" x="552"/><use href="#L2" x="604"/><use href="#L2" x="656"/><use href="#N2" x="708"/><use href="#N2" x="760"/><use href="#N2" x="812"/><use href="#N2" x="864"/><use href="#N2" x="916"/><use href="#N2" x="968"/><use href="#N2" x="1020"/><use href="#N2" x="1072"/></g>
<g id="row49" transform="translate(0,2558)"><use href="#R1" x="84"/><use href="#L1" x="136"/><use href="#L1" x="188"/><use href="#L1" x="240"/><use href="#L1" x="292"/><use href="#L1" x="344"/><use href="#L1" x="396"/><use href="#L1" x="448"/><use href="#L1" x="500"/><use href="#L1" x="552"/><use href="#L1" x="604"/><use href="#N1" x="656"/><use href="#N1" x="708"/><use href="#N1" x="760"/><use href="#N1" x="812"/><use href="#N1" x="864"/><use href="#N1" x="916"/><use href="#N1" x="968"/><use href="#N1" x="1020"/><use href="#N1" x="1072"/></g>
<g id="row50" transform="translate(0,2610)"><use href="#R2" x="84"/><use href="#R2" x="136"/><use href="#L2" x="188"/><use href="#L2" x="240"/><use href="#L2" x="292"/><use href="#L2" x="344"/><use href="#L2" x="396"/><use href="#L2" x="448"/><use href="#L2" x="500"/><use href="#L2" x="552"/><use href="#L2" x="604"/><use href="#L2" x="656"/><use href="#N2" x="708"/><use href="#N2" x="760"/><use href="#N2" x="812"/><use href="#N2" x="864"/><use href="#N2" x="916"/><use href="#N2" x="968"/><use href="#N2" x="1020"/><use href="#N2" x="1072"/></g>
<g id="row51" transform="translate(0,2662)"><use href="#R1" x="84"/><use href="#R1" x="136"/><use href="#R1" x="188"/><use href="#L1" x="240"/><use href="#L1" x="292"/><use href="#L1" x="344"/><use href="#L1" x="396"/><use href="#L1" x="448"/><use href="#L1" x="500"/><use href="#L1" x="552"/><use href="#L1" x="604"/><use href="#L1" x="656"/><use href="#L1" x="708"/><use href="#N1" x="760"/><use href="#N1" x="812"/><use href="#N1" x="864"/><use href="#N1" x="916"/><use href="#N1" x="968"/><use href="#N1" x="1020"/><use href="#N1" x="1072"/></g>
<g id="row52" transform="translate(0,2714)"><use href="#R2" x="84"/><use href="#R2" x="136"/><use href="#R2" x="188"/><use href="#R2" x="240"/><use href="#L2" x="292"/><use href="#L2" x="344"/><use href="#L2" x="396"/><use href="#L2" x="448"/><use href="#L2" x="500"/><use href="#L2" x="552"/><use href="#L2" x="604"/><use href="#L2" x="656"/><use href="#L2" x="708"/><use href="#L2" x="760"/><use href="#N2" x="812"/><use href="#N2" x="864"/><use href="#N2" x="916"/><use href="#N2" x="968"/><use href="#N2" x="1020"/><use href="#N2" x="1072"/></g>
<g id="row53" transform="translate(0,2766)"><use href="#R1" x="84"/><use href="#R1" x="136"/><use href="#R1" x="188"/><use href="#R1" x="240"/><use href="#R1" x="292"/><use href="#L1" x="344"/><use href="#L1" x="396"/><use href="#L1" x="448"/><use href="#L1" x="500"/><use href="#L1" x="552"/><use href="#L1" x="604"/><use href="#L1" x="656"/><use href="#L1" x="708"/><use href="#L1" x="760"/><use href="#L1" x="812"/><use href="#N1" x="864"/><use href="#N1" x="916"/><use href="#N1" x="968"/><use href="#N1" x="1020"/><use href="#N1" x="1072"/></g>
<g id="row54" transform="translate(0,2818)"><use href="#R2" x="84"/><use href="#R2" x="136"/><use href="#R2" x="188"/><use href="#R2" x="240"/><use href="#R2" x="292"/><use href="#R2" x="344"/><use href="#L2" x="396"/><use href="#L2" x="448"/><use href="#L2" x="500"/><use href="#L2" x="552"/><use href="#L2" x="604"/><use href="#L2" x="656"/><use href="#L2" x="708"/><use href="#L2" x="760"/><use href="#L2" x="812"/><use href="#L2" x="864"/><use href="#N2" x="916"/><use href="#N2" x="968"/><use href="#N2" x="1020"/><use href="#N2" x="1072"/></g>
<g id="row55" transform="translate(0,2870)"><use href="#R1" x="84"/><use href="#R1" x="136"/><use href="#R1" x="188"/><use href="#R1" x="240"/><use href="#R1" x="292"/><use href="#R1" x="344"/><use href="#R1" x="396"/><use href="#L1" x="448"/><use href="#L1" x="500"/><use href="#L1" x="552"/><use href="#L1" x="604"/><use href="#L1" x="656"/><use href="#L1" x="708"/><use href="#L1" x="760"/><use href="#L1" x="812"/><use href="#L1" x="864"/><use href="#L1" x="916"/><use href="#N1" x="968"/><use href="#N1" x="1020"/><use href="#N1" x="1072"/></g>
<g id="row56" transform="translate(0,2922)"><use href="#R2" x="84"/><use href="#R2" x="136"/><use href="#R2" x="188"/><use href="#R2" x="240"/><use href="#R2" x="292"/><use href="#R2" x="344"/><use href="#R2" x="396"/><use href="#R2" x="448"/><use href="#L2" x="500"/><use href="#L2" x="552"/><use href="#L2" x="604"/><use href="#L2" x="656"/><use href="#L2" x="708"/><use href="#L2" x="760"/><use href="#L2" x="812"/><use href="#L2" x="864"/><use href="#L2" x="916"/><use href="#L2" x="968"/><use href="#N2" x="1020"/><use href="#N2" x="1072"/></g>
<g id="row57" transform="translate(0,2974)"><use href="#R1" x="84"/><use href="#R1" x="136"/><use href="#R1" x="188"/><use href="#R1" x="240"/><use href="#R1" x="292"/><use href="#R1" x="344"/><use href="#R1" x="396"/><use href="#R1" x="448"/><use href="#R1" x="500"/><use href="#L1" x="552"/><use href="#L1" x="604"/><use href="#L1" x="656"/><use href="#L1" x="708"/><use href="#L1" x="760"/><use href="#L1" x="812"/><use href="#L1" x="864"/><use href="#L1" x="916"/><use href="#L1" x="968"/><use href="#L1" x="1020"/><use href="#N1" x="1072"/></g>
<g id="row58" transform="translate(0,3026)"><use href="#R2" x="84"/><use href="#R2" x="136"/><use href="#R2" x="188"/><use href="#R2" x="240"/><use href="#R2" x="292"/><use href="#R2" x="344"/><use href="#R2" x="396"/><use href="#R2" x="448"/><use href="#L2" x="500"/><use href="#L2" x="552"/><use href="#L2" x="604"/><use href="#L2" x="656"/><use href="#L2" x="708"/><use href="#L2" x="760"/><use href="#L2" x="812"/><use href="#L2" x="864"/><use href="#L2" x="916"/><use href="#L2" x="968"/><use href="#N2" x="1020"/><use href="#N2" x="1072"/></g>
<g id="row59" transform="translate(0,3078)"><use href="#R1" x="84"/><use href="#R1" x="136"/><use href="#R1" x="188"/><use href="#R1" x="240"/><use href="#R1" x="292"/><use href="#R1" x="344"/><use href="#R1" x="396"/><use href="#L1" x="448"/><use href="#L1" x="500"/><use href="#L1" x="552"/><use href="#L1" x="604"/><use href="#L1" x="656"/><use href="#L1" x="708"/><use href="#L1" x="760"/><use href="#L1" x="812"/><use href="#L1" x="864"/><use href="#L1" x="916"/><use href="#N1" x="968"/><use href="#N1" x="1020"/><use href="#N1" x="1072"/></g>
<g id="row60" transform="translate(0,3130)"><use href="#R2" x="84"/><use href="#R2" x="136"/><use href="#R2" x="188"/><use href="#R2" x="240"/><use href="#R2" x="292"/><use href="#R2" x="344"/><use href="#L2" x="396"/><use href="#L2" x="448"/><use href="#L2" x="500"/><use href="#L2" x="552"/><use href="#L2" x="604"/><use href="#L2" x="656"/><use href="#L2" x="708"/><use href="#L2" x="760"/><use href="#L2" x="812"/><use href="#L2" x="864"/><use href="#N2" x="916"/><use href="#N2" x="968"/><use href="#N2" x="1020"/><use href="#N2" x="1072"/></g>
<g id="row61" transform="translate(0,3182)"><use href="#R1" x="84"/><use href="#R1" x="136"/><use href="#R1" x="188"/><use href="#R1" x="240"/><use href="#R1" x="292"/><use href="#L1" x="344"/><use href="#L1" x="396"/><use href="#L1" x="448"/><use href="#L1" x="500"/><use href="#L1" x="552"/><use href="#L1" x="604"/><use href="#L1" x="656"/><use href="#L1" x="708"/><use href="#L1" x="760"/><use href="#L1" x="812"/><use href="#N1" x="864"/><use href="#N1" x="916"/><use href="#N1" x="968"/><use href="#N1" x="1020"/><use href="#N1" x="1072"/></g>
<g id="row62" transform="translate(0,3234)"><use href="#R2" x="84"/><use href="#R2" x="136"/><use href="#R2" x="188"/><use href="#R2" x="240"/><use href="#L2" x="292"/><use href="#L2" x="344"/><use href="#L2" x="396"/><use href="#L2" x="448"/><use href="#L2" x="500"/><use href="#L2" x="552"/><use href="#L2" x="604"/><use href="#L2" x="656"/><use href="#L2" x="708"/><use href="#L2" x="760"/><use href="#N2" x="812"/><use href="#N2" x="864"/><use href="#N2" x="916"/><use href="#N2" x="968"/><use href="#N2" x="1020"/><use href="#N2" x="1072"/></g>
<g id="row63" transform="translate(0,3286)"><use href="#R1" x="84"/><use href="#R1" x="136"/><use href="#R1" x="188"/><use href="#L1" x="240"/><use href="#L1" x="292"/><use href="#L1" x="344"/><use href="#L1" x="396"/><use href="#L1" x="448"/><use href="#L1" x="500"/><use href="#L1" x="552"/><use href="#L1" x="604"/><use href="#L1" x="656"/><use href="#L1" x="708"/><use href="#N1" x="760"/><use href="#N1" x="812"/><use href="#N1" x="864"/><use href="#N1" x="916"/><use href="#N1" x="968"/><use href="#N1" x="1020"/><use href="#N1" x="1072"/></g>
<g id="row64" transform="translate(0,3338)"><use href="#R2" x="84"/><use href="#R2" x="136"/><use href="#L2" x="188"/><use href="#L2" x="240"/><use href="#L2" x="292"/><use href="#L2" x="344"/><use href="#L2" x="396"/><use href="#L2" x="448"/><use href="#L2" x="500"/><use href="#L2" x="552"/><use href="#L2" x="604"/><use href="#L2" x="656"/><use href="#N2" x="708"/><use href="#N2" x="760"/><use href="#N2" x="812"/><use href="#N2" x="864"/><use href="#N2" x="916"/><use href="#N2" x="968"/><use href="#N2" x="1020"/><use href="#N2" x="1072"/></g>
</g>
<g id="labels">
<text class="lab" x="31.5" y="66.3">A</text>
<text class="lab" x="31.5" y="3342.3">A</text>
</g>
<g id="numbers-left" class="num" text-anchor="end">
<text x="21.3" y="66.5">1</text><text x="21.3" y="118.5">2</text><text x="21.3" y="170.5">3</text><text x="21.3" y="222.5">4</text><text x="21.3" y="274.5">5</text><text x="21.3" y="326.5">6</text><text x="21.3" y="378.5">7</text><text x="21.3" y="430.5">8</text><text x="21.3" y="482.5">9</text><text x="21.3" y="534.5">10</text><text x="21.3" y="586.5">11</text><text x="21.3" y="638.5">12</text><text x="21.3" y="690.5">13</text><text x="21.3" y="742.5">14</text><text x="21.3" y="794.5">15</text><text x="21.3" y="846.5">16</text><text x="21.3" y="898.5">17</text><text x="21.3" y="950.5">18</text><text x="21.3" y="1002.5">19</text><text x="21.3" y="1054.5">20</text><text x="21.3" y="1106.5">21</text><text x="21.3" y="1158.5">22</text><text x="21.3" y="1210.5">23</text><text x="21.3" y="1262.5">24</text><text x="21.3" y="1314.5">25</text><text x="21.3" y="1366.5">26</text><text x="21.3" y="1418.5">27</text><text x="21.3" y="1470.5">28</text><text x="21.3" y="1522.5">29</text><text x="21.3" y="1574.5">30</text><text x="21.3" y="1626.5">31</text><text x="21.3" y="1678.5">32</text><text x="21.3" y="1730.5">33</text><text x="21.3" y="1782.5">34</text><text x="21.3" y="1834.5">35</text><text x="21.3" y="1886.5">36</text><text x="21.3" y="1938.5">37</text><text x="21.3" y="1990.5">38</text><text x="21.3" y="2042.5">39</text><text x="21.3" y="2094.5">40</text><text x="21.3" y="2146.5">41</text><text x="21.3" y="2198.5">42</text><text x="21.3" y="2250.5">43</text><text x="21.3" y="2302.5">44</text><text x="21.3" y="2354.5">45</text><text x="21.3" y="2406.5">46</text><text x="21.3" y="2458.5">47</text><text x="21.3" y="2510.5">48</text><text x="21.3" y="2562.5">49</text><text x="21.3" y="2614.5">50</text><text x="21.3" y="2666.5">51</text><text x="21.3" y="2718.5">52</text><text x="21.3" y="2770.5">53</text><text x="21.3" y="2822.5">54</text><text x="21.3" y="2874.5">55</text><text x="21.3" y="2926.5">56</text><text x="21.3" y="2978.5">57</text><text x="21.3" y="3030.5">58</text><text x="21.3" y="3082.5">59</text><text x="21.3" y="3134.5">60</text><text x="21.3" y="3186.5">61</text><text x="21.3" y="3238.5">62</text><text x="21.3" y="3290.5">63</text><text x="21.3" y="3342.5">64</text>
</g>
<g id="numbers-right" class="num">
<text x="1134.5" y="66.5">1</text><text x="1134.5" y="118.5">2</text><text x="1134.5" y="170.5">3</text><text x="1134.5" y="222.5">4</text><text x="1134.5" y="274.5">5</text><text x="1134.5" y="326.5">6</text><text x="1134.5" y="378.5">7</text><text x="1134.5" y="430.5">8</text><text x="1134.5" y="482.5">9</text><text x="1134.5" y="534.5">10</text><text x="1134.5" y="586.5">11</text><text x="1134.5" y="638.5">12</text><text x="1134.5" y="690.5">13</text><text x="1134.5" y="742.5">14</text><text x="1134.5" y="794.5">15</text><text x="1134.5" y="846.5">16</text><text x="1134.5" y="898.5">17</text><text x="1134.5" y="950.5">18</text><text x="1134.5" y="1002.5">19</text><text x="1134.5" y="1054.5">20</text><text x="1134.5" y="1106.5">21</text><text x="1134.5" y="1158.5">22</text><text x="1134.5" y="1210.5">23</text><text x="1134.5" y="1262.5">24</text><text x="1134.5" y="1314.5">25</text><text x="1134.5" y="1366.5">26</text><text x="1134.5" y="1418.5">27</text><text x="1134.5" y="1470.5">28</text><text x="1134.5" y="1522.5">29</text><text x="1134.5" y="1574.5">30</text><text x="1134.5" y="1626.5">31</text><text x="1134.5" y="1678.5">32</text><text x="1134.5" y="1730.5">33</text><text x="1134.5" y="1782.5">34</text><text x="1134.5" y="1834.5">35</text><text x="1134.5" y="1886.5">36</text><text x="1134.5" y="1938.5">37</text><text x="1134.5" y="1990.5">38</text><text x="1134.5" y="2042.5">39</text><text x="1134.5" y="2094.5">40</text><text x="1134.5" y="2146.5">41</text><text x="1134.5" y="2198.5">42</text><text x="1134.5" y="2250.5">43</text><text x="1134.5" y="2302.5">44</text><text x="1134.5" y="2354.5">45</text><text x="1134.5" y="2406.5">46</text><text x="1134.5" y="2458.5">47</text><text x="1134.5" y="2510.5">48</text><text x="1134.5" y="2562.5">49</text><text x="1134.5" y="2614.5">50</text><text x="1134.5" y="2666.5">51</text><text x="1134.5" y="2718.5">52</text><text x="1134.5" y="2770.5">53</text><text x="1134.5" y="2822.5">54</text><text x="1134.5" y="2874.5">55</text><text x="1134.5" y="2926.5">56</text><text x="1134.5" y="2978.5">57</text><text x="1134.5" y="3030.5">58</text><text x="1134.5" y="3082.5">59</text><text x="1134.5" y="3134.5">60</text><text x="1134.5" y="3186.5">61</text><text x="1134.5" y="3238.5">62</text><text x="1134.5" y="3290.5">63</text><text x="1134.5" y="3342.5">64</text>
</g>
<g id="watermark">
<rect x="495" y="1692" width="162" height="15" fill="#fff" fill-opacity="0.5"/>
<text class="wm" x="578" y="1705" text-anchor="middle" textLength="153" lengthAdjust="spacingAndGlyphs">BRACELETBOOK.COM</text>
</g>
</svg>
